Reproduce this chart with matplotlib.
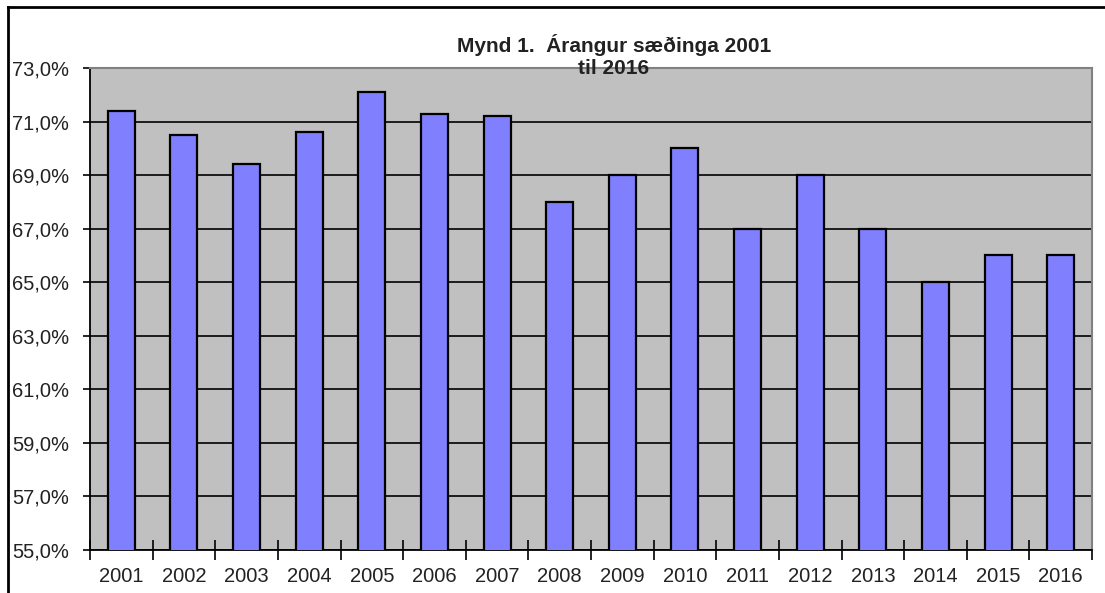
import matplotlib.pyplot as plt
from matplotlib.ticker import FuncFormatter

plt.rcParams['font.family'] = ['Liberation Sans', 'DejaVu Sans']

# Data
years = ['2001', '2002', '2003', '2004', '2005', '2006', '2007', '2008',
         '2009', '2010', '2011', '2012', '2013', '2014', '2015', '2016']
arangur = [71.4, 70.5, 69.4, 70.6, 72.1, 71.3, 71.2, 68.0,
           69.0, 70.0, 67.0, 69.0, 67.0, 65.0, 66.0, 66.0]
y_ticks = [55, 57, 59, 61, 63, 65, 67, 69, 71, 73]

W, H = 1105, 593
fig = plt.figure(figsize=(W / 100, H / 100), dpi=100)

# plot area in pixels: left 90, right 1092, top 68, bottom 550
left, right, top, bottom = 90, 1092, 68, 550
ax = fig.add_axes([left / W, 1 - bottom / H, (right - left) / W, (bottom - top) / H])
ax.set_facecolor('#c0c0c0')

x = list(range(len(years)))
ax.bar(x, arangur, width=0.43, bottom=0, color='#8080ff',
       edgecolor='black', linewidth=1.6, zorder=3)

ax.set_xlim(-0.5, len(years) - 0.5)
ax.set_ylim(55, 73)
ax.set_yticks(y_ticks)
ax.yaxis.set_major_formatter(FuncFormatter(lambda v, p: f'{v:.1f}%'.replace('.', ',')))
ax.yaxis.grid(True, color='black', linewidth=1.2, zorder=1)
ax.set_axisbelow(True)

# category labels centred, ticks between categories
ax.set_xticks(x)
ax.set_xticklabels(years)
ax.tick_params(axis='x', length=0, labelsize=14.5, pad=12, colors='#222222')
ax.set_xticks([i - 0.5 for i in range(len(years) + 1)], minor=True)
ax.tick_params(axis='x', which='minor', direction='inout', length=14, width=1.2)
ax.tick_params(axis='y', direction='out', length=5, width=1.2, labelsize=14.5,
               pad=10, colors='black', labelcolor='#222222')

for s in ['left', 'bottom']:
    ax.spines[s].set_color('black')
    ax.spines[s].set_linewidth(1.3)
for s in ['top', 'right']:
    ax.spines[s].set_color('#808080')
    ax.spines[s].set_linewidth(1.5)

fig.text(614 / W, 1 - 56 / H, 'Mynd 1.  Árangur sæðinga 2001\ntil 2016',
         ha='center', va='center', fontsize=15, fontweight='bold',
         color='#222222', linespacing=1.15)

# chart border (only left and top visible in the picture)
fig.add_artist(plt.Line2D([8 / W, 8 / W], [0, 1 - 7 / H], color='black',
                          linewidth=2, transform=fig.transFigure))
fig.add_artist(plt.Line2D([8 / W, 1], [1 - 7 / H, 1 - 7 / H], color='black',
                          linewidth=2, transform=fig.transFigure))

fig.savefig('out.png', dpi=100)
